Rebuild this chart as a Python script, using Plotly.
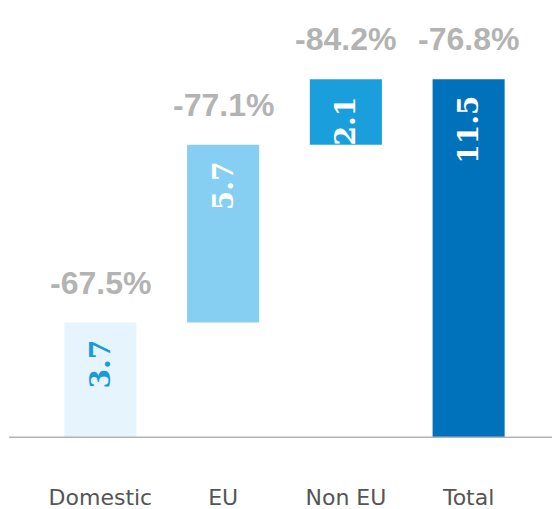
import plotly.graph_objects as go

# Waterfall-style breakdown by market
categories = ["Domestic", "EU", "Non EU", "Total"]
values = [3.7, 5.7, 2.1, 11.5]
is_total = [False, False, False, True]
changes = ["-67.5%", "-77.1%", "-84.2%", "-76.8%"]
value_labels = ["3.7", "5.7", "2.1", "11.5"]

bar_colors = ["#e6f4fd", "#86cff3", "#1b9fdc", "#0071bb"]
text_colors = ["#1a9ad8", "#ffffff", "#ffffff", "#ffffff"]

# floating bases: running sum for components, zero for the total
bases = []
running = 0.0
for v, t in zip(values, is_total):
    if t:
        bases.append(0.0)
    else:
        bases.append(running)
        running += v
tops = [b + v for b, v in zip(bases, values)]

fig = go.Figure()
fig.add_trace(go.Bar(
    x=categories,
    y=values,
    base=bases,
    marker=dict(color=bar_colors, line=dict(width=0)),
    hoverinfo="skip",
))

# rotated value labels near the top of each bar
for cat, top, label, col in zip(categories, tops, value_labels, text_colors):
    fig.add_annotation(
        x=cat, y=top, text=label, showarrow=False, textangle=-90,
        yanchor="top", yshift=-15,
        font=dict(family="DejaVu Serif", size=28, color=col, weight="bold"),
    )

# percentage change above each bar
for cat, top, label in zip(categories, tops, changes):
    fig.add_annotation(
        x=cat, y=top, text=label, showarrow=False,
        yanchor="middle", yshift=40,
        font=dict(family="Liberation Sans", size=32, color="#b3b3b3", weight="bold"),
    )

# baseline rule
fig.add_shape(type="line", xref="paper", yref="y",
              x0=-0.061, x1=1.05, y0=0, y1=0,
              line=dict(color="#b3b3b3", width=3))

fig.update_layout(
    width=552, height=509,
    margin=dict(l=39, r=22, t=2, b=71, autoexpand=False),
    paper_bgcolor="white", plot_bgcolor="white",
    bargap=0.413,
    showlegend=False,
    xaxis=dict(showline=False, showgrid=False, zeroline=False, ticks="",
               automargin=False, ticklabelstandoff=44,
               tickfont=dict(family="DejaVu Sans", size=22, color="#555555")),
    yaxis=dict(range=[0, 436 / 31.2], visible=False, showgrid=False,
               zeroline=False, automargin=False),
)

fig.write_html("out.html")
